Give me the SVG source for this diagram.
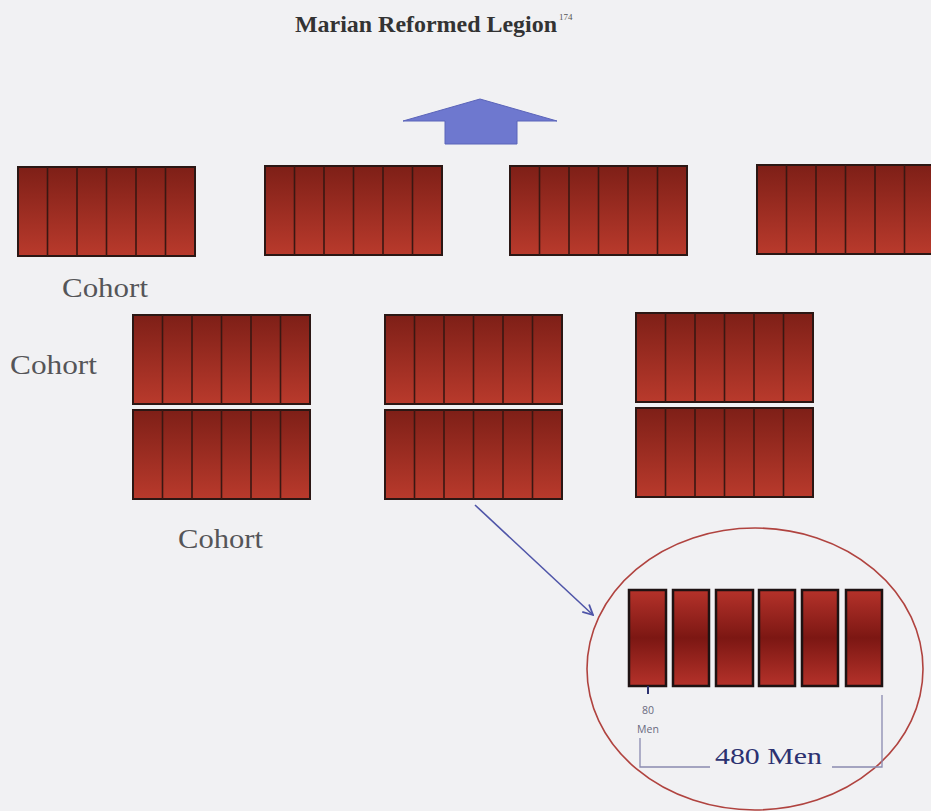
<svg xmlns="http://www.w3.org/2000/svg" xmlns:xlink="http://www.w3.org/1999/xlink" width="931" height="811" viewBox="0 0 931 811">
  <defs>
    <linearGradient id="cohortFill" x1="0" y1="0" x2="0" y2="1">
      <stop offset="0" stop-color="#7e1f17"/>
      <stop offset="1" stop-color="#b93a2c"/>
    </linearGradient>
    <linearGradient id="barFill" x1="0" y1="0" x2="0" y2="1">
      <stop offset="0" stop-color="#b5322a"/>
      <stop offset="0.5" stop-color="#7c1713"/>
      <stop offset="1" stop-color="#b5322a"/>
    </linearGradient>
    <g id="cohort">
      <rect x="0" y="0" width="177" height="89" fill="url(#cohortFill)" stroke="#2b1714" stroke-width="2"/>
      <path d="M29.5 0V89M59 0V89M88.5 0V89M118 0V89M147.5 0V89" stroke="#3a1712" stroke-width="1.6" fill="none"/>
    </g>
    <marker id="arrowHead" viewBox="0 0 12 12" refX="11" refY="6" markerWidth="12" markerHeight="12" markerUnits="userSpaceOnUse" orient="auto">
      <path d="M1 1L11 6L1 11" fill="none" stroke="#4f55a8" stroke-width="1.8"/>
    </marker>
  </defs>
  <style>
    .lbl { font-family: "Liberation Serif", "DejaVu Serif", serif; font-size: 27px; fill: #555558; }
    .title { font-family: "Liberation Serif", serif; font-weight: bold; font-size: 24px; fill: #333333; }
    .small { font-family: "Open Sans", "Liberation Sans", sans-serif; font-size: 10.5px; fill: #6a6a80; }
    .men { font-family: "Liberation Serif", serif; font-size: 23px; fill: #2c3170; }
    .bar { fill: url(#barFill); stroke: #1e1212; stroke-width: 2.5; }
    .dim { stroke: #8a8ab0; stroke-width: 1.3; fill: none; }
  </style>
  <rect width="931" height="811" fill="#f1f1f3"/>

  <g id="title">
    <text class="title" x="295" y="32" textLength="262" lengthAdjust="spacingAndGlyphs">Marian Reformed Legion</text>
    <text x="559" y="20" font-family="Liberation Serif, serif" font-size="9" fill="#555">174</text>
  </g>

  <g id="up-arrow">
    <path d="M480 99L557 121L517 121L517 144L445 144L445 121L403 121Z" fill="#6e78cf" stroke="#5b64b9" stroke-width="1"/>
  </g>

  <g id="top-row">
    <g id="cohort-t1"><use xlink:href="#cohort" x="18" y="167"/></g>
    <g id="cohort-t2"><use xlink:href="#cohort" x="265" y="166"/></g>
    <g id="cohort-t3"><use xlink:href="#cohort" x="510" y="166"/></g>
    <g id="cohort-t4"><use xlink:href="#cohort" x="757" y="165"/></g>
  </g>

  <g id="label-cohort-1"><text class="lbl" x="62" y="297" textLength="86" lengthAdjust="spacingAndGlyphs">Cohort</text></g>
  <g id="label-cohort-2"><text class="lbl" x="10" y="374" textLength="87" lengthAdjust="spacingAndGlyphs">Cohort</text></g>
  <g id="label-cohort-3"><text class="lbl" x="178" y="548" textLength="85" lengthAdjust="spacingAndGlyphs">Cohort</text></g>

  <g id="middle-rows">
    <g id="cohort-m1"><use xlink:href="#cohort" x="133" y="315"/></g>
    <g id="cohort-m2"><use xlink:href="#cohort" x="133" y="410"/></g>
    <g id="cohort-m3"><use xlink:href="#cohort" x="385" y="315"/></g>
    <g id="cohort-m4"><use xlink:href="#cohort" x="385" y="410"/></g>
    <g id="cohort-m5"><use xlink:href="#cohort" x="636" y="313"/></g>
    <g id="cohort-m6"><use xlink:href="#cohort" x="636" y="408"/></g>
  </g>

  <g id="connectors">
    <line x1="475" y1="505" x2="593" y2="615" stroke="#4f55a8" stroke-width="1.6" marker-end="url(#arrowHead)"/>
  </g>

  <g id="detail">
    <ellipse cx="755" cy="669" rx="168" ry="141" fill="none" stroke="#b0433f" stroke-width="1.6"/>
    <rect class="bar" x="629" y="590" width="37" height="96"/>
    <rect class="bar" x="673" y="590" width="36" height="96"/>
    <rect class="bar" x="716" y="590" width="37" height="96"/>
    <rect class="bar" x="759" y="590" width="36" height="96"/>
    <rect class="bar" x="802" y="590" width="36" height="96"/>
    <rect class="bar" x="846" y="590" width="36" height="96"/>
    <line x1="648" y1="686" x2="648" y2="694" stroke="#2c3170" stroke-width="2"/>
    <text class="small" x="648" y="714" text-anchor="middle">80</text>
    <text class="small" x="648" y="733" text-anchor="middle">Men</text>
    <path class="dim" d="M640 738V767H710"/>
    <path class="dim" d="M832 767H882V695"/>
    <text class="men" x="715" y="764" textLength="107" lengthAdjust="spacingAndGlyphs">480 Men</text>
  </g>
</svg>
